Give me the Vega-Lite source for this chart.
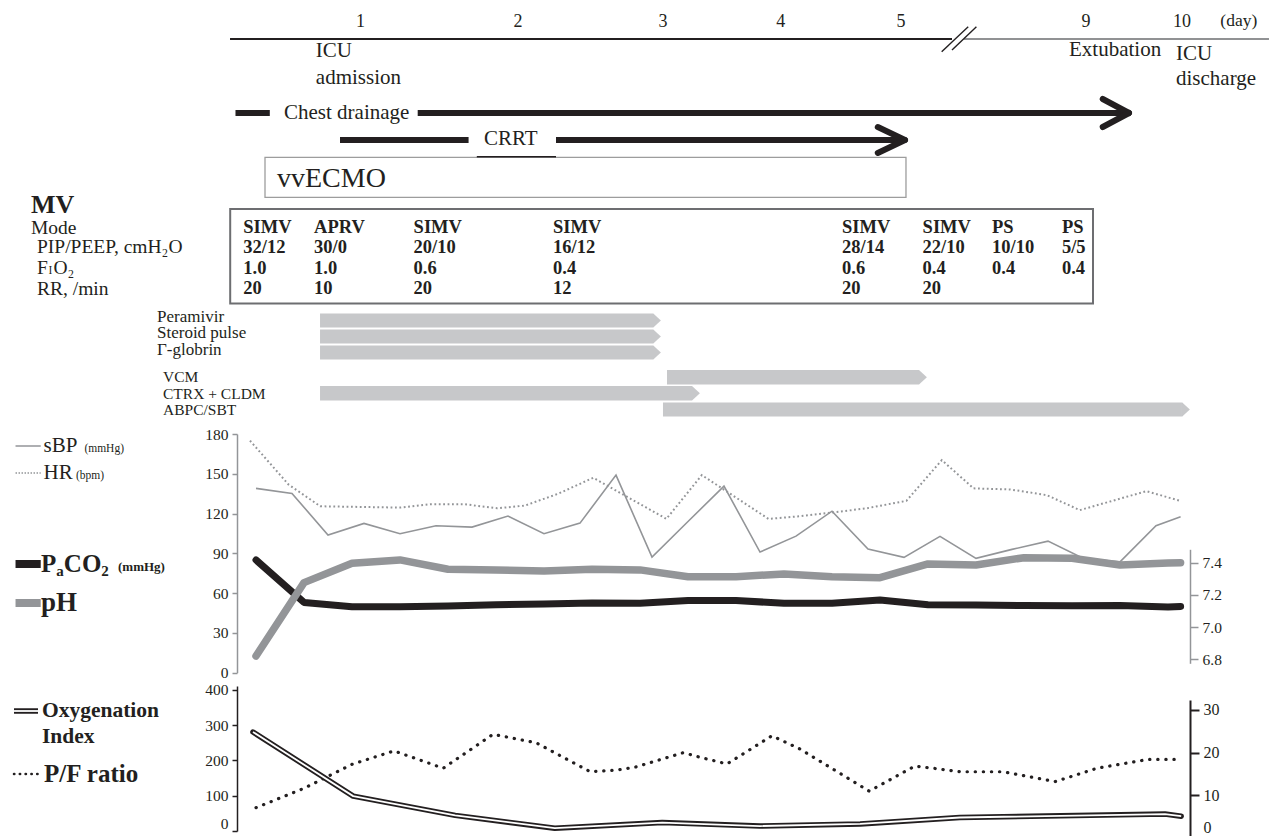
{
"$schema":"https://vega.github.io/schema/vega-lite/v6.json",
"width":1269,"height":836,"padding":0,"autosize":{"type":"none"},"background":"white",
"config":{"view":{"stroke":null},"axis":{"labelFont":"Liberation Serif","labelColor":"#231f20","grid":false},"text":{"font":"Liberation Serif","color":"#231f20","baseline":"middle","align":"left"}},
"datasets":{
"sbp":[{"t":0,"v":139},{"t":6,"v":135.2},{"t":12,"v":103.8},{"t":18,"v":112.6},{"t":24,"v":104.8},{"t":30,"v":110.8},{"t":36,"v":109.8},{"t":42,"v":118.1},{"t":48,"v":104.8},{"t":54,"v":112.8},{"t":60,"v":149},{"t":66,"v":87.2},{"t":72,"v":114},{"t":78,"v":140.7},{"t":84,"v":91},{"t":90,"v":103},{"t":96,"v":121.8},{"t":102,"v":93.2},{"t":108,"v":87},{"t":114,"v":102.8},{"t":120,"v":86.2},{"t":126,"v":93},{"t":132,"v":99.2},{"t":138,"v":86},{"t":144,"v":83.6},{"t":150,"v":110.8},{"t":154.1,"v":117.6}],
"hr":[{"t":-1,"v":175},{"t":5.4,"v":142},{"t":10.7,"v":125.5},{"t":17.3,"v":125},{"t":24,"v":124.5},{"t":29,"v":127},{"t":34.8,"v":127},{"t":40.2,"v":124},{"t":44.8,"v":126},{"t":50.4,"v":135},{"t":56.2,"v":147},{"t":68.4,"v":116},{"t":74.3,"v":149},{"t":85.4,"v":116},{"t":90.7,"v":118},{"t":95.7,"v":120.6},{"t":101.8,"v":124},{"t":108.4,"v":129.6},{"t":114.3,"v":160.3},{"t":119.6,"v":139},{"t":125.7,"v":138.2},{"t":131.8,"v":133.9},{"t":137.3,"v":122.6},{"t":148.4,"v":136.9},{"t":154,"v":129.6}],
"paco2":[{"t":0,"v":85},{"t":8,"v":53},{"t":16,"v":49.7},{"t":24,"v":49.7},{"t":32,"v":50.3},{"t":40,"v":51.2},{"t":48,"v":51.8},{"t":56,"v":52.5},{"t":64,"v":52.3},{"t":72,"v":54.5},{"t":80,"v":54.5},{"t":88,"v":52.3},{"t":96,"v":52.3},{"t":104,"v":54.8},{"t":112,"v":51.3},{"t":120,"v":51},{"t":128,"v":50.7},{"t":136,"v":50.5},{"t":144,"v":50.7},{"t":152,"v":49.5},{"t":154.1,"v":50}],
"ph":[{"t":0,"ph":6.82},{"t":8,"ph":7.276},{"t":16,"ph":7.396},{"t":24,"ph":7.417},{"t":32,"ph":7.359},{"t":40,"ph":7.355},{"t":48,"ph":7.348},{"t":56,"ph":7.359},{"t":64,"ph":7.355},{"t":72,"ph":7.313},{"t":80,"ph":7.313},{"t":88,"ph":7.33},{"t":96,"ph":7.313},{"t":104,"ph":7.307},{"t":112,"ph":7.392},{"t":120,"ph":7.386},{"t":128,"ph":7.431},{"t":136,"ph":7.427},{"t":144,"ph":7.386},{"t":152,"ph":7.398},{"t":154.1,"ph":7.4}],
"pf":[{"t":0,"pf":66},{"t":8,"pf":121},{"t":16,"pf":189},{"t":23,"pf":227},{"t":31.2,"pf":178},{"t":39.5,"pf":274},{"t":46.7,"pf":250},{"t":55.7,"pf":168},{"t":60.2,"pf":173},{"t":63.2,"pf":181},{"t":71.2,"pf":222},{"t":74,"pf":209},{"t":78.5,"pf":190},{"t":86,"pf":270},{"t":90.7,"pf":232},{"t":102.2,"pf":113},{"t":109.8,"pf":184},{"t":112.8,"pf":178},{"t":117.3,"pf":168},{"t":124.5,"pf":168},{"t":133.2,"pf":140},{"t":140.2,"pf":178},{"t":148.7,"pf":203},{"t":154,"pf":203}],
"oi":[{"t":-0.5,"oi":24.8},{"t":16.2,"oi":9.8},{"t":33.2,"oi":5.3},{"t":49.8,"oi":2.3},{"t":67.7,"oi":3.6},{"t":84,"oi":2.8},{"t":100.7,"oi":3.3},{"t":117.3,"oi":4.8},{"t":151.5,"oi":5.6},{"t":154.2,"oi":5.1}],
"mv":[
{"t":-2.12,"setting":"Mode","value":"SIMV","y":227},{"t":-2.12,"setting":"PIP/PEEP","value":"32/12","y":247},{"t":-2.12,"setting":"FIO2","value":"1.0","y":268},{"t":-2.12,"setting":"RR","value":"20","y":288},
{"t":9.67,"setting":"Mode","value":"APRV","y":227},{"t":9.67,"setting":"PIP/PEEP","value":"30/0","y":247},{"t":9.67,"setting":"FIO2","value":"1.0","y":268},{"t":9.67,"setting":"RR","value":"10","y":288},
{"t":26.27,"setting":"Mode","value":"SIMV","y":227},{"t":26.27,"setting":"PIP/PEEP","value":"20/10","y":247},{"t":26.27,"setting":"FIO2","value":"0.6","y":268},{"t":26.27,"setting":"RR","value":"20","y":288},
{"t":49.5,"setting":"Mode","value":"SIMV","y":227},{"t":49.5,"setting":"PIP/PEEP","value":"16/12","y":247},{"t":49.5,"setting":"FIO2","value":"0.4","y":268},{"t":49.5,"setting":"RR","value":"12","y":288},
{"t":97.67,"setting":"Mode","value":"SIMV","y":227},{"t":97.67,"setting":"PIP/PEEP","value":"28/14","y":247},{"t":97.67,"setting":"FIO2","value":"0.6","y":268},{"t":97.67,"setting":"RR","value":"20","y":288},
{"t":111.1,"setting":"Mode","value":"SIMV","y":227},{"t":111.1,"setting":"PIP/PEEP","value":"22/10","y":247},{"t":111.1,"setting":"FIO2","value":"0.4","y":268},{"t":111.1,"setting":"RR","value":"20","y":288},
{"t":122.67,"setting":"Mode","value":"PS","y":227},{"t":122.67,"setting":"PIP/PEEP","value":"10/10","y":247},{"t":122.67,"setting":"FIO2","value":"0.4","y":268},
{"t":134.33,"setting":"Mode","value":"PS","y":227},{"t":134.33,"setting":"PIP/PEEP","value":"5/5","y":247},{"t":134.33,"setting":"FIO2","value":"0.4","y":268}],
"drugs":[{"drug":"Peramivir","t":10.67,"t2":66.17,"y":313.5,"y2":327.5,"ty":320.5},{"drug":"Steroid pulse","t":10.67,"t2":66.17,"y":329.5,"y2":343.5,"ty":336.5},{"drug":"Γ-globrin","t":10.67,"t2":66.17,"y":345.5,"y2":359.5,"ty":352.5},{"drug":"VCM","t":68.5,"t2":110.5,"y":370,"y2":384.5,"ty":377.25},{"drug":"CTRX + CLDM","t":10.67,"t2":72.67,"y":386,"y2":400.5,"ty":393.25},{"drug":"ABPC/SBT","t":67.83,"t2":154.33,"y":402.5,"y2":416.5,"ty":409.5}]
},
"encoding":{"x":{"field":"t","type":"quantitative","scale":{"domain":[-42.667,168.833],"nice":false,"zero":false},"axis":null}},
"resolve":{"scale":{"y":"independent"}},
"layer":[
{"encoding":{"y":{"field":"y","type":"quantitative","scale":{"domain":[0,836],"range":[0,836],"nice":false,"zero":false},"axis":null}},
 "layer":[
  {"data":{"values":[{"day":"1","t":17.43,"y":22},{"day":"2","t":43.67,"y":22},{"day":"3","t":67.83,"y":22},{"day":"4","t":87.47,"y":22},{"day":"5","t":107.5,"y":22},{"day":"9","t":138.33,"y":22},{"day":"10","t":154.33,"y":22}]},
   "mark":{"type":"text","fontSize":18,"align":"center"},"encoding":{"text":{"field":"day"}}},
  {"data":{"values":[{"label":"(day)","t":163.8,"y":21}]},"mark":{"type":"text","fontSize":17.5,"align":"center"},"encoding":{"text":{"field":"label"}}},
  {"data":{"values":[{"seg":"days 1-5","t":-4.33,"t2":116,"y":39}]},"mark":{"type":"rule","color":"#231f20","strokeWidth":2.2},"encoding":{"x2":{"field":"t2"}}},
  {"data":{"values":[{"seg":"days 9-10","t":118,"t2":168.83,"y":39}]},"mark":{"type":"rule","color":"#6d6e71","strokeWidth":1.4},"encoding":{"x2":{"field":"t2"}}},
  {"data":{"values":[{"t":114.28,"t2":118.7,"y":51.7,"y2":26.7},{"t":116,"t2":120.07,"y":50,"y2":26.7}]},"mark":{"type":"rule","color":"#231f20","strokeWidth":1.4},"encoding":{"x2":{"field":"t2"},"y2":{"field":"y2"}}},
  {"data":{"values":[{"label":"ICU","t":9.97,"y":51},{"label":"admission","t":9.97,"y":78},{"label":"Extubation","t":135.5,"y":50},{"label":"ICU","t":153.33,"y":54},{"label":"discharge","t":153.33,"y":79},{"label":"Chest drainage","t":4.67,"y":113},{"label":"CRRT","t":38,"y":139}]},
   "mark":{"type":"text","fontSize":21},"encoding":{"text":{"field":"label"}}},
  {"data":{"values":[{"item":"Chest drainage","t":-3.42,"t2":2.3,"y":113},{"item":"Chest drainage","t":26.95,"t2":144.67,"y":113},{"item":"CRRT","t":14,"t2":35.43,"y":140},{"item":"CRRT","t":50,"t2":107.33,"y":140}]},
   "mark":{"type":"rule","color":"#231f20","strokeWidth":6},"encoding":{"x2":{"field":"t2"}}},
  {"data":{"values":[{"t":145.5,"t2":141.12,"y":113,"y2":99},{"t":145.5,"t2":141.12,"y":113,"y2":127},{"t":108.17,"t2":103.63,"y":140,"y2":127},{"t":108.17,"t2":103.63,"y":140,"y2":153}]},
   "mark":{"type":"rule","color":"#231f20","strokeWidth":6,"strokeCap":"round"},"encoding":{"x2":{"field":"t2"},"y2":{"field":"y2"}}},
  {"data":{"values":[{"t":1.5,"t2":108.33,"y":157.3,"y2":197.3}]},"mark":{"type":"rect","filled":false,"color":"#9d9d9d","strokeWidth":1.3},"encoding":{"x2":{"field":"t2"},"y2":{"field":"y2"}}},
  {"data":{"values":[{"t":36.8,"t2":50,"y":156.7}]},"mark":{"type":"rule","color":"#231f20","strokeWidth":1.5},"encoding":{"x2":{"field":"t2"}}},
  {"data":{"values":[{"label":"vvECMO","t":3.5,"y":179}]},"mark":{"type":"text","fontSize":28},"encoding":{"text":{"field":"label"}}},
  {"data":{"values":[{"label":"MV","t":-37.5,"y":205}]},"mark":{"type":"text","fontSize":26,"fontWeight":"bold"},"encoding":{"text":{"field":"label"}}},
  {"data":{"values":[{"label":"Mode","t":-37.5,"y":228},{"label":"PIP/PEEP, cmH₂O","t":-36.5,"y":247},{"label":"F","t":-36.5,"y":267.5},{"label":"O₂","t":-33.75,"y":267.5},{"label":"RR, /min","t":-36.5,"y":289}]},
   "mark":{"type":"text","fontSize":19.5},"encoding":{"text":{"field":"label"}}},
  {"data":{"values":[{"label":"I","t":-34.58,"y":271}]},
   "mark":{"type":"text","fontSize":11.5},"encoding":{"text":{"field":"label"}}},
  {"data":{"values":[{"t":-4.3,"t2":139.5,"y":209,"y2":303.5}]},"mark":{"type":"rect","filled":false,"color":"#6d6e71","strokeWidth":2},"encoding":{"x2":{"field":"t2"},"y2":{"field":"y2"}}},
  {"data":{"name":"mv"},"mark":{"type":"text","fontSize":18.5,"fontWeight":"bold"},"encoding":{"text":{"field":"value"}}},
  {"data":{"name":"drugs"},"mark":{"type":"rect","color":"#c7c8ca"},"encoding":{"x2":{"field":"t2"},"y2":{"field":"y2"}}},
  {"data":{"name":"drugs"},"mark":{"type":"point","shape":"M0,-1L1.1,0L0,1Z","size":205,"filled":true,"color":"#c7c8ca","opacity":1,"strokeWidth":0},"encoding":{"x":{"field":"t2","type":"quantitative"},"y":{"field":"ty","type":"quantitative"}}},
  {"data":{"values":[{"label":"Peramivir","t":-16.5,"y":316.5},{"label":"Steroid pulse","t":-16.5,"y":333},{"label":"Γ-globrin","t":-16.5,"y":349.5}]},"mark":{"type":"text","fontSize":17},"encoding":{"text":{"field":"label"}}},
  {"data":{"values":[{"label":"VCM","t":-15.5,"y":376.5},{"label":"CTRX + CLDM","t":-15.5,"y":394},{"label":"ABPC/SBT","t":-15.5,"y":410}]},"mark":{"type":"text","fontSize":15.5},"encoding":{"text":{"field":"label"}}},
  {"data":{"values":[{"series":"sBP","t":-40.08,"t2":-35.88,"y":446}]},"mark":{"type":"rule","color":"#939598","strokeWidth":1.5},"encoding":{"x2":{"field":"t2"}}},
  {"data":{"values":[{"series":"HR","t":-40.08,"t2":-35.88,"y":473}]},"mark":{"type":"rule","color":"#939598","strokeWidth":1.6,"strokeDash":[1.5,1.5]},"encoding":{"x2":{"field":"t2"}}},
  {"data":{"values":[{"label":"sBP","t":-35.4,"y":446},{"label":"HR","t":-35.4,"y":473}]},"mark":{"type":"text","fontSize":21},"encoding":{"text":{"field":"label"}}},
  {"data":{"values":[{"label":"(mmHg)","t":-28.6,"y":449},{"label":"(bpm)","t":-30,"y":476}]},"mark":{"type":"text","fontSize":11.5},"encoding":{"text":{"field":"label"}}},
  {"data":{"values":[{"series":"PaCO2","t":-40.08,"t2":-35.88,"y":564}]},"mark":{"type":"rule","color":"#231f20","strokeWidth":8},"encoding":{"x2":{"field":"t2"}}},
  {"data":{"values":[{"series":"pH","t":-40.08,"t2":-35.88,"y":603}]},"mark":{"type":"rule","color":"#939598","strokeWidth":8},"encoding":{"x2":{"field":"t2"}}},
  {"data":{"values":[{"label":"P","t":-35.83,"y":564},{"label":"CO","t":-32.03,"y":564}]},"mark":{"type":"text","fontSize":25,"fontWeight":"bold"},"encoding":{"text":{"field":"label"}}},
  {"data":{"values":[{"label":"a","t":-33.28,"y":571},{"label":"2","t":-25.78,"y":571}]},"mark":{"type":"text","fontSize":15,"fontWeight":"bold"},"encoding":{"text":{"field":"label"}}},
  {"data":{"values":[{"label":"(mmHg)","t":-23,"y":567}]},"mark":{"type":"text","fontSize":13,"fontWeight":"bold"},"encoding":{"text":{"field":"label"}}},
  {"data":{"values":[{"label":"pH","t":-35.83,"y":603}]},"mark":{"type":"text","fontSize":27,"fontWeight":"bold"},"encoding":{"text":{"field":"label"}}},
  {"data":{"values":[{"series":"Oxygenation Index","t":-40.33,"t2":-36.33,"y":711}]},"mark":{"type":"rule","color":"#231f20","strokeWidth":5.5},"encoding":{"x2":{"field":"t2"}}},
  {"data":{"values":[{"series":"Oxygenation Index","t":-40.33,"t2":-36.33,"y":711}]},"mark":{"type":"rule","color":"white","strokeWidth":1.8},"encoding":{"x2":{"field":"t2"}}},
  {"data":{"values":[{"series":"P/F ratio","t":-40.33,"t2":-36,"y":774}]},"mark":{"type":"rule","color":"#231f20","strokeWidth":2.6,"strokeCap":"round","strokeDash":[0.3,5.5]},"encoding":{"x2":{"field":"t2"}}},
  {"data":{"values":[{"label":"Oxygenation","t":-35.67,"y":711},{"label":"Index","t":-35.67,"y":737}]},"mark":{"type":"text","fontSize":21.5,"fontWeight":"bold"},"encoding":{"text":{"field":"label"}}},
  {"data":{"values":[{"label":"P/F ratio","t":-35.33,"y":774}]},"mark":{"type":"text","fontSize":25,"fontWeight":"bold"},"encoding":{"text":{"field":"label"}}}
 ]},
{"encoding":{"y":{"field":"v","type":"quantitative","scale":{"domain":[0,180],"range":[672.7,434],"nice":false,"zero":false},"axis":{"orient":"left","offset":-237,"values":[0,30,60,90,120,150,180],"domainColor":"#939598","domainWidth":1.5,"tickColor":"#939598","tickWidth":1.5,"tickSize":5,"labelFontSize":15.5,"labelPadding":4,"title":null,"grid":false}}},
 "layer":[
  {"data":{"name":"sbp"},"mark":{"type":"line","color":"#939598","strokeWidth":1.6}},
  {"data":{"name":"hr"},"mark":{"type":"line","color":"#939598","strokeWidth":2,"strokeDash":[1.8,2.6]}},
  {"data":{"name":"paco2"},"mark":{"type":"line","color":"#231f20","strokeWidth":7,"strokeCap":"round","strokeJoin":"round"}}
 ]},
{"data":{"name":"ph"},"mark":{"type":"line","color":"#939598","strokeWidth":7.5,"strokeCap":"round","strokeJoin":"round"},
 "encoding":{"y":{"field":"ph","type":"quantitative","scale":{"domain":[6.775,7.483],"range":[663.3,549.3],"nice":false,"zero":false},"axis":{"orient":"right","offset":-79,"values":[6.8,7.0,7.2,7.4],"format":".1f","domainColor":"#939598","domainWidth":1.5,"tickColor":"#939598","tickWidth":1.5,"tickSize":8,"labelFontSize":15.5,"labelPadding":4,"title":null,"grid":false}}}},
{"data":{"name":"pf"},"mark":{"type":"line","color":"#231f20","strokeWidth":3.2,"strokeCap":"round","strokeDash":[0.3,7.8]},
 "encoding":{"y":{"field":"pf","type":"quantitative","scale":{"domain":[0,411],"range":[831,686],"nice":false,"zero":false},"axis":{"orient":"left","offset":-237,"values":[0,100,200,300,400],"domainColor":"#231f20","domainWidth":1.5,"tickColor":"#231f20","tickWidth":1.5,"tickSize":5,"labelFontSize":15.5,"labelPadding":4,"labelBaseline":{"condition":{"test":"datum.value == 0","value":"bottom"},"value":"middle"},"title":null,"grid":false}}}},
{"data":{"name":"oi"},
 "encoding":{"y":{"field":"oi","type":"quantitative","scale":{"domain":[0,32.3],"range":[838,700],"nice":false,"zero":false},"axis":{"orient":"right","offset":-79,"values":[0,10,20,30],"domainColor":"#231f20","domainWidth":2,"tickColor":"#231f20","tickWidth":2,"tickSize":9,"labelFontSize":16,"labelPadding":4,"labelBaseline":{"condition":{"test":"datum.value == 0","value":"bottom"},"value":"middle"},"labelOffset":{"condition":{"test":"datum.value == 0","value":-3},"value":0},"title":null,"grid":false}}},
 "layer":[
  {"mark":{"type":"line","color":"#231f20","strokeWidth":5.5,"strokeCap":"round","strokeJoin":"round"}},
  {"mark":{"type":"line","color":"white","strokeWidth":1.8,"strokeJoin":"round"}}
 ]}
]
}
